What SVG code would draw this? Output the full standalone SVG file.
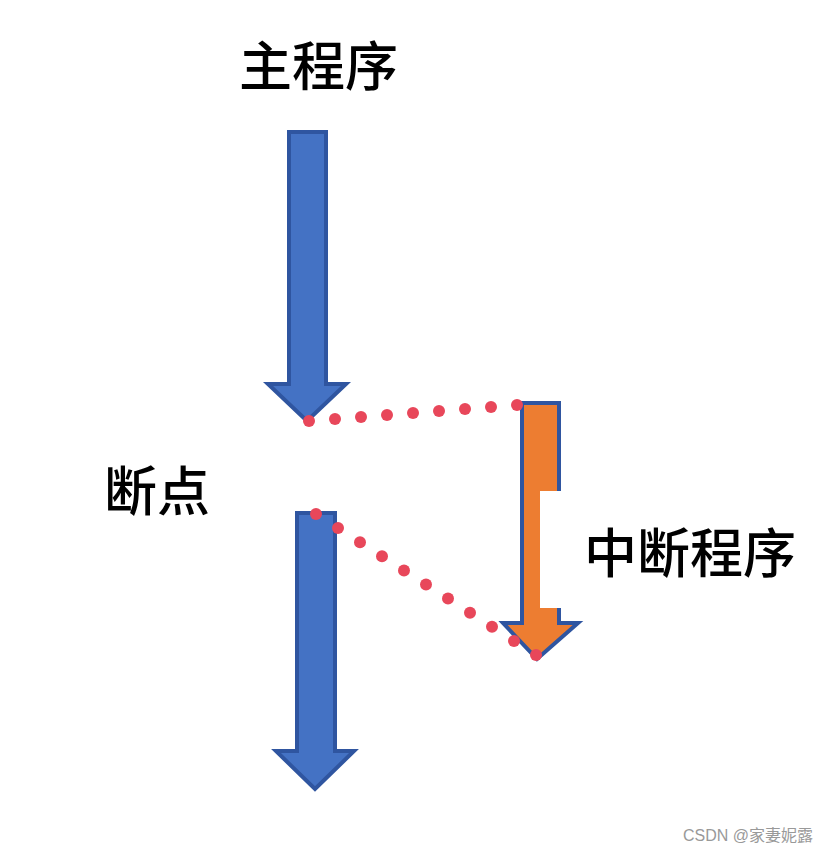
<svg xmlns="http://www.w3.org/2000/svg" width="835" height="853" viewBox="0 0 835 853">
<style>
.blue{fill:#4472C4;stroke:#2F55A0;stroke-width:4;stroke-linejoin:miter}
.orange{fill:#ED7D31;stroke:#2F55A0;stroke-width:4;stroke-linejoin:miter}
.dots circle{fill:#E8475A}
.lbl{font-family:"Noto Sans CJK SC",sans-serif;font-size:53px;font-weight:500;fill:#000}
.wm{font-family:"Liberation Sans","Noto Sans CJK SC",sans-serif;font-size:16px;fill:#999}
</style>
<rect width="835" height="853" fill="#fff"/>
<g id="main-arrow-top">
<polygon class="blue" points="289,132 326,132 326,384 346,384 307,421 268,384 289,384"/>
</g>
<g id="main-arrow-bottom">
<polygon class="blue" points="297,513 335,513 335,751 354,751 315,789 276,751 297,751"/>
</g>
<g id="interrupt-arrow">
<polygon class="orange" points="522,403 559,403 559,623 578,623 537,659 503,623 522,623"/>
<rect x="540" y="491" width="22" height="117" fill="#fff"/>
</g>
<g id="connectors" class="dots">
<circle cx="309" cy="421" r="6"/><circle cx="335" cy="419" r="6"/><circle cx="361" cy="417" r="6"/>
<circle cx="387" cy="415" r="6"/><circle cx="413" cy="413" r="6"/><circle cx="439" cy="411" r="6"/>
<circle cx="465" cy="409" r="6"/><circle cx="491" cy="407" r="6"/><circle cx="517" cy="405" r="6"/>
<circle cx="316" cy="514" r="6"/><circle cx="338" cy="528.1" r="6"/><circle cx="360" cy="542.2" r="6"/>
<circle cx="382" cy="556.3" r="6"/><circle cx="404" cy="570.4" r="6"/><circle cx="426" cy="584.5" r="6"/>
<circle cx="448" cy="598.6" r="6"/><circle cx="470" cy="612.7" r="6"/><circle cx="492" cy="626.8" r="6"/>
<circle cx="514" cy="640.9" r="6"/><circle cx="536" cy="655" r="6"/>
</g>
<g id="label-main"><text class="lbl" x="239" y="86">主程序</text></g>
<g id="label-break"><text class="lbl" x="104" y="511">断点</text></g>
<g id="label-isr"><text class="lbl" x="584" y="573">中断程序</text></g>
<text class="wm" x="683" y="841">CSDN @家妻妮露</text>
</svg>
